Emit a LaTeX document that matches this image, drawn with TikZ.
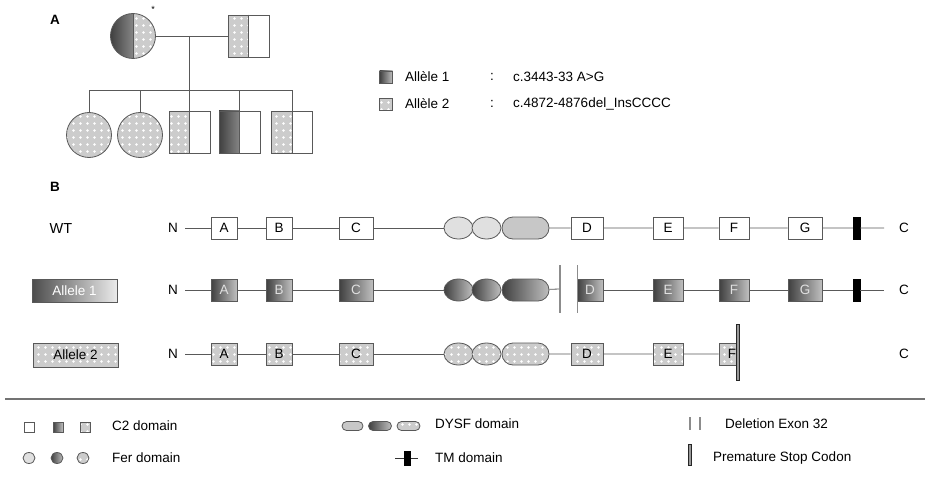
\documentclass[tikz,border=0pt]{standalone}
\usepackage{fontspec}
\setmainfont{Liberation Sans}
\usetikzlibrary{shapes.geometric,shapes.misc,patterns,calc}
\pgfdeclarepatternformonly{wdots}{\pgfpoint{-1pt}{-1pt}}{\pgfpoint{8pt}{8pt}}{\pgfpoint{7pt}{7pt}}{\pgfpathcircle{\pgfpoint{3.5pt}{3.5pt}}{1.3pt}\pgfusepath{fill}}
\newcommand\fs{\fontsize{13.5pt}{16pt}\selectfont}
\definecolor{lc}{gray}{0.35}
\definecolor{dotbg}{gray}{0.8}
\definecolor{ferwt}{gray}{0.88}
\definecolor{dysfwt}{gray}{0.78}
\tikzset{
 ln/.style={draw=lc, line width=0.8pt},
 exon/.style={draw=lc, line width=0.8pt, rectangle, minimum width=26pt, minimum height=22pt, inner sep=0pt},
 fer/.style={draw=lc, line width=0.8pt, ellipse, minimum width=29pt, minimum height=22pt, inner sep=0pt},
 dysf/.style={draw=lc, line width=0.8pt, rounded rectangle, minimum width=47pt, minimum height=22pt, inner sep=0pt},
 wtc/.style={fill=white},
 a1c/.style={left color=black!75, right color=black!25, text=white!88!black},
 a2c/.style={preaction={fill=dotbg}, pattern=wdots, pattern color=white},
 tm/.style={rectangle, fill=black, draw=black, minimum width=7pt, minimum height=22pt, inner sep=0pt},
 delbar/.style={rectangle, fill=black!45, minimum width=1.2pt, minimum height=48pt, inner sep=0pt},
 stopbar/.style={rectangle, fill=black!40, draw=black!85, line width=0.5pt, minimum width=3.5pt, minimum height=56pt, inner sep=0pt},
 nlab/.style={inner xsep=7pt},
 ped/.style={draw=lc, line width=0.8pt, inner sep=0pt},
 pedsq/.style={ped, rectangle, minimum width=41pt, minimum height=42pt},
 pedci/.style={ped, circle, minimum size=45pt},
 gradL/.style={path picture={\shade[left color=black!75,right color=black!20] (path picture bounding box.north west) rectangle (path picture bounding box.south);}},
 dotsL/.style={path picture={\fill[dotbg] (path picture bounding box.north west) rectangle (path picture bounding box.south);
   \fill[pattern=wdots,pattern color=white] (path picture bounding box.north west) rectangle (path picture bounding box.south);}},
 momfill/.style={path picture={\shade[left color=black!75,right color=black!20] (path picture bounding box.north west) rectangle (path picture bounding box.south);
   \fill[dotbg] (path picture bounding box.north) rectangle (path picture bounding box.south east);
   \fill[pattern=wdots,pattern color=white] (path picture bounding box.north) rectangle (path picture bounding box.south east);}},
 lbl/.style={anchor=west, inner sep=0pt},
}
\begin{document}
\begin{tikzpicture}[x=1pt,y=-1pt, every node/.style={font=\fs}]
\useasboundingbox[fill=white] (0,0) rectangle (925,484);
% ---------- Panel A
\node[font=\fs\bfseries] (labA) at (55,20) {A};
\node[pedci,momfill] (mom) at (133,36) {};
\draw[ped] (mom.north) -- (mom.south);
\node[font=\small, inner sep=0pt] (ast) at (153,9) {*};
\node[pedsq,dotsL] (dad) at (248.5,36) {};
\draw[ped] (dad.north) -- (dad.south);
\coordinate (mj) at (189,36);
\coordinate (sib) at (189,90);
\draw[ped] (mom) -- (dad);
\draw[ped] (mj) -- (sib);
\node[pedci,a2c] (c1) at (89,135) {};
\node[pedci,a2c] (c2) at (140,135) {};
\node[pedsq,dotsL] (s1) at (189.5,132) {};
\node[pedsq,gradL] (s2) at (239.5,132) {};
\node[pedsq,dotsL] (s3) at (292,132) {};
\foreach \s in {s1,s2,s3}{\draw[ped] (\s.north) -- (\s.south);}
\draw[ped] (c1.north |- sib) -- (s3.north |- sib);
\foreach \s in {c1,c2,s1,s2,s3}{\draw[ped] (\s.north) -- (\s.north |- sib);}
% legend A
\node[exon, minimum width=13pt, minimum height=12pt, a1c] (lg1) at (386,77) {};
\node[lbl] (lg1t) at (405,77) {Allèle 1};
\node (lg1c) at (492,77) {:};
\node[lbl] (lg1v) at (513,77) {c.3443-33 A>G};
\node[exon, minimum width=13pt, minimum height=12pt, a2c] (lg2) at (386,104) {};
\node[lbl] (lg2t) at (405,104) {Allèle 2};
\node (lg2c) at (492,104) {:};
\node[lbl] (lg2v) at (513,104) {c.4872-4876del\_InsCCCC};
% ---------- Panel B
\node[font=\fs\bfseries] (labB) at (55,187) {B};
% WT row
\node[font=\fontsize{14.5pt}{17pt}\selectfont] (wtL) at (61,229) {WT};
\node[nlab] (wtN) at (173,228) {N};
\node[exon,wtc] (wtA) at (224,228) {A};
\node[exon,wtc] (wtB) at (279,228) {B};
\node[exon,wtc,minimum width=34pt] (wtC) at (356,228) {C};
\node[fer,fill=ferwt] (wtF1) at (458.5,228) {};
\node[fer,fill=ferwt] (wtF2) at (486.5,228) {};
\node[dysf,fill=dysfwt] (wtP) at (525.5,228) {};
\node[exon,wtc,minimum width=32pt] (wtD) at (587,228) {D};
\node[exon,wtc,minimum width=30pt] (wtE) at (668,228) {E};
\node[exon,wtc,minimum width=30pt] (wtFx) at (734,228) {F};
\node[exon,wtc,minimum width=34pt] (wtG) at (805,228) {G};
\node[tm] (wtTM) at (856.5,228) {};
\coordinate (wtEnd) at (884,228);
\node (wtCt) at (904,228) {C};
\draw[ln] (wtN) -- (wtA) -- (wtB) -- (wtC) -- (wtF1);
\draw[ln] (wtP) -- (wtD) -- (wtE) -- (wtFx) -- (wtG) -- (wtTM) -- (wtEnd);
% Allele 1 row
\node[rectangle, draw=lc, line width=0.8pt, minimum width=85pt, minimum height=23pt, left color=black!70, right color=black!8, text=white] (a1L) at (74.5,291) {Allele 1};
\node[nlab] (a1N) at (173,290) {N};
\node[exon,a1c] (a1A) at (224,290) {A};
\node[exon,a1c] (a1B) at (279,290) {B};
\node[exon,a1c,minimum width=34pt] (a1C) at (356,290) {C};
\node[fer,a1c] (a1F1) at (458.5,290) {};
\node[fer,a1c] (a1F2) at (486.5,290) {};
\node[dysf,a1c] (a1P) at (525.5,290) {};
\node[delbar] (a1d1) at (560,289) {};
\node[exon,a1c] (a1D) at (590,290) {D};
\node[delbar] (a1d2) at (577.5,289) {};
\node[exon,a1c,minimum width=30pt] (a1E) at (668,290) {E};
\node[exon,a1c,minimum width=30pt] (a1Fx) at (734,290) {F};
\node[exon,a1c,minimum width=34pt] (a1G) at (805,290) {G};
\node[tm] (a1TM) at (856.5,290) {};
\coordinate (a1End) at (884,290);
\node (a1Ct) at (904,290) {C};
\draw[ln] (a1N) -- (a1A) -- (a1B) -- (a1C) -- (a1F1);
\draw[ln] (a1P) -- (a1d1);
\draw[ln] (a1D) -- (a1E) -- (a1Fx) -- (a1G) -- (a1TM) -- (a1End);
% Allele 2 row
\node[rectangle, draw=lc, line width=0.8pt, minimum width=85pt, minimum height=24pt, a2c] (a2L) at (75.5,355) {Allele 2};
\node[nlab] (a2N) at (173,354) {N};
\node[exon,a2c] (a2A) at (224,354) {A};
\node[exon,a2c] (a2B) at (279,354) {B};
\node[exon,a2c,minimum width=34pt] (a2C) at (356,354) {C};
\node[fer,a2c] (a2F1) at (458.5,354) {};
\node[fer,a2c] (a2F2) at (486.5,354) {};
\node[dysf,a2c] (a2P) at (525.5,354) {};
\node[exon,a2c,minimum width=32pt] (a2D) at (587,354) {D};
\node[exon,a2c,minimum width=30pt] (a2E) at (668,354) {E};
\node[exon,a2c,minimum width=18pt] (a2Fx) at (728,354) {\hspace*{8pt}F};
\node[stopbar] (a2stop) at (737.5,352) {};
\node (a2Ct) at (904,354) {C};
\draw[ln] (a2N) -- (a2A) -- (a2B) -- (a2C) -- (a2F1);
\draw[ln] (a2P) -- (a2D) -- (a2E) -- (a2Fx);
% separator
\coordinate (sepL) at (5,399);
\coordinate (sepR) at (925,399);
\draw[black!55, line width=1.5pt] (sepL) -- (sepR);
% bottom legend
\node[exon, minimum width=10pt, minimum height=10pt, wtc] (k1) at (29.5,427) {};
\node[exon, minimum width=10pt, minimum height=10pt, a1c] (k2) at (58,427) {};
\node[exon, minimum width=10pt, minimum height=10pt, a2c] (k3) at (85,427) {};
\node[lbl] (k4) at (112,426) {C2 domain};
\node[fer, minimum width=12pt, minimum height=11pt, fill=ferwt] (f1) at (29,458) {};
\node[fer, minimum width=12pt, minimum height=11pt, a1c] (f2) at (57,458) {};
\node[fer, minimum width=12pt, minimum height=11pt, a2c] (f3) at (83,458) {};
\node[lbl] (f4) at (112,458) {Fer domain};
\node[dysf, minimum width=21pt, minimum height=9pt, fill=dysfwt] (d1) at (352.5,426) {};
\node[dysf, minimum width=23pt, minimum height=9pt, a1c] (d2) at (380,426) {};
\node[dysf, minimum width=23pt, minimum height=9pt, a2c] (d3) at (408.5,426) {};
\node[lbl] (d4) at (435,424) {DYSF domain};
\coordinate (tmL) at (395,458);
\coordinate (tmR) at (418,458);
\draw[ln, draw=black!80] (tmL) -- (tmR);
\node[tm, minimum width=6pt, minimum height=14pt] (tmk) at (407,458) {};
\node[lbl] (t4) at (435,458) {TM domain};
\node[delbar, minimum height=13pt] (dl1) at (690,423.5) {};
\node[delbar, minimum height=13pt] (dl2) at (700,423.5) {};
\node[lbl] (dl3) at (725,424) {Deletion Exon 32};
\node[stopbar, minimum height=21pt, minimum width=3pt] (sc1) at (690,454.5) {};
\node[lbl] (sc2) at (713,458) {Premature Stop Codon};
\end{tikzpicture}
\end{document}
